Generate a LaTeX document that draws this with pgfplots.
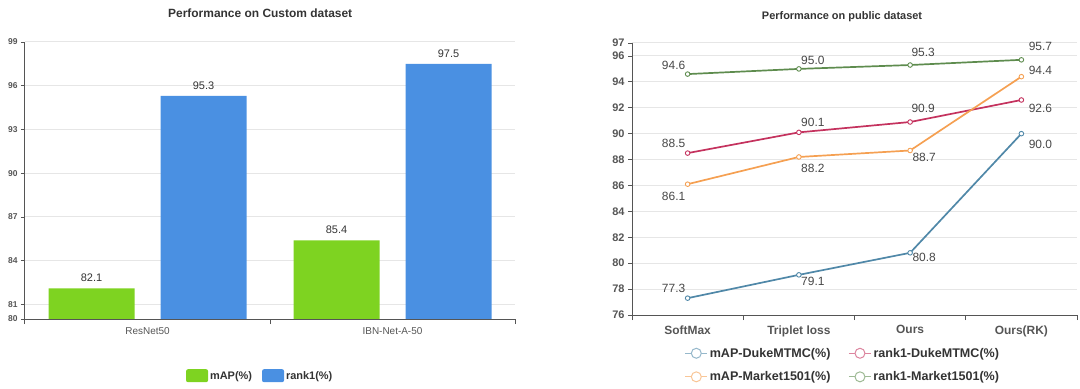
\documentclass[border=0pt]{standalone}
\usepackage{pgfplots}
\pgfplotsset{compat=1.18}
\usepackage{pgfplotstable}
\usepackage{fontspec}
\setmainfont{Liberation Sans}
\definecolor{cgreen}{HTML}{7ED321}
\definecolor{cblue}{HTML}{4A90E2}
\definecolor{cduke}{HTML}{5088A8}
\definecolor{crank}{HTML}{C4325E}
\definecolor{cmkt}{HTML}{F5A052}
\definecolor{crmkt}{HTML}{5E8C4E}
\definecolor{axisgray}{HTML}{555555}
\definecolor{txt}{HTML}{333333}
\definecolor{gridc}{HTML}{E6E6E6}
\pgfkeys{/pgf/number format/assume math mode=true}

\pgfplotstableread{
x y dx dy
0 77.3 -14 10
1 79.1 14 -7
2 80.8 14 -5
3 90.0 19 -11
}\dukemap
\pgfplotstableread{
x y dx dy
0 88.5 -14 10
1 90.1 14 10
2 90.9 13 14
3 92.6 19 -8
}\dukerank
\pgfplotstableread{
x y dx dy
0 86.1 -14 -12
1 88.2 14 -11
2 88.7 14 -7
3 94.4 19 6
}\mktmap
\pgfplotstableread{
x y dx dy
0 94.6 -14 9
1 95.0 14 9
2 95.3 13 13
3 95.7 19 13
}\mktrank

\begin{document}
\begin{tikzpicture}
\path[use as bounding box] (0bp,0bp) rectangle (1080bp,389bp);

% ---------------- left chart ----------------
\begin{axis}[
  at={(25bp,70bp)}, anchor=south west, scale only axis,
  width=490bp, height=277bp,
  xmin=-0.5, xmax=1.5, ymin=80, ymax=99,
  ytick={80,81,84,87,90,93,96,99},
  xtick={0,1}, xticklabels={ResNet50,IBN-Net-A-50},
  axis x line*=bottom, axis y line*=left,
  axis line style={axisgray, line width=1bp, -},
  tick align=outside, major tick length=4bp,
  xtick style={draw=none},
  extra x ticks={-0.5,0.5,1.5}, extra x tick labels={},
  extra x tick style={grid=none, xtick style={draw=axisgray, line width=1bp}, major tick length=5bp},
  ytick style={axisgray, line width=0.8bp},
  ymajorgrids, grid style={gridc, line width=1bp},
  yticklabel style={font=\bfseries\fontsize{8.5}{9}\selectfont, text=axisgray},
  xticklabel style={font=\fontsize{10}{11}\selectfont, text=axisgray, yshift=-1bp},
  /pgf/number format/assume math mode=true,
  title={Performance on Custom dataset},
  every axis title/.style={at={(0.48,1.105)}, anchor=center, font=\bfseries\fontsize{12}{13}\selectfont, text=txt},
  legend columns=2,
  legend style={at={(0.48,-0.206)}, anchor=center, draw=none, fill=none,
    font=\bfseries\fontsize{11}{12}\selectfont, text=txt,
    /tikz/every even column/.append style={column sep=8bp}},
  nodes near coords={\pgfmathprintnumber[fixed,fixed zerofill,precision=1]{\pgfplotspointmeta}},
  nodes near coords style={font=\fontsize{11}{12}\selectfont, text=txt, anchor=south, yshift=3bp},
]
\addplot[ybar, bar width=86bp, bar shift=-56bp, fill=cgreen, draw=none,
  every node near coord/.append style={xshift=-56bp},
  legend image code/.code={\fill[cgreen, rounded corners=2bp] (0bp,-6bp) rectangle (22bp,7bp);}]
  coordinates {(0,82.1) (1,85.4)};
\addlegendentry{mAP(\%)}
\addplot[ybar, bar width=86bp, bar shift=56bp, fill=cblue, draw=none,
  every node near coord/.append style={xshift=56bp},
  legend image code/.code={\fill[cblue, rounded corners=2bp] (0bp,-6bp) rectangle (22bp,7bp);}]
  coordinates {(0,95.3) (1,97.5)};
\addlegendentry{rank1(\%)}
\end{axis}

% ---------------- right chart ----------------
\begin{axis}[
  at={(632bp,74bp)}, anchor=south west, scale only axis,
  width=445bp, height=272bp,
  xmin=-0.5, xmax=3.5, ymin=76, ymax=97,
  ytick={76,78,80,82,84,86,88,90,92,94,96,97},
  xtick={0,1,2,3}, xticklabels={SoftMax,Triplet loss,Ours,Ours(RK)},
  axis x line*=bottom, axis y line*=left,
  axis line style={axisgray, line width=1bp, -},
  tick align=outside, major tick length=4bp,
  xtick style={draw=none},
  extra x ticks={-0.5,0.5,1.5,2.5,3.5}, extra x tick labels={},
  extra x tick style={grid=none, xtick style={draw=axisgray, line width=1bp}, major tick length=5bp},
  ytick style={axisgray, line width=0.8bp},
  ymajorgrids, grid style={gridc, line width=1bp},
  yticklabel style={font=\bfseries\fontsize{11}{12}\selectfont, text=axisgray},
  xticklabel style={font=\bfseries\fontsize{12}{13}\selectfont, text=axisgray, yshift=-3bp},
  /pgf/number format/assume math mode=true,
  title={Performance on public dataset},
  every axis title/.style={at={(0.472,1.097)}, anchor=center, font=\bfseries\fontsize{11}{12}\selectfont, text=txt},
  legend columns=2,
  legend style={at={(0.474,-0.184)}, anchor=center, draw=none, fill=none,
    font=\bfseries\fontsize{12.6}{13}\selectfont, text=txt,
    row sep=9bp,
    /tikz/every even column/.append style={column sep=16bp}},
  point meta=y,
  visualization depends on={\thisrow{dx}\as\labdx},
  visualization depends on={\thisrow{dy}\as\labdy},
  nodes near coords={\pgfmathprintnumber[fixed,fixed zerofill,precision=1]{\pgfplotspointmeta}},
  nodes near coords style={font=\fontsize{12}{13}\selectfont, text=txt!90, anchor=center, xshift={\labdx*1bp}, yshift={\labdy*1bp}},
  every axis plot/.append style={line width=1.7bp, mark=*, mark size=2.3bp, mark options={fill=white, line width=0.9bp}},
]
\addplot[color=cduke,
  legend image code/.code={\draw[cduke!60, line width=1bp] (0bp,0bp) -- (22bp,0bp); \draw[cduke!60, line width=1bp, fill=white] (11bp,0bp) circle (5bp);}]
  table[x=x,y=y] {\dukemap};
\addlegendentry{mAP-DukeMTMC(\%)}
\addplot[color=crank,
  legend image code/.code={\draw[crank!60, line width=1bp] (0bp,0bp) -- (22bp,0bp); \draw[crank!60, line width=1bp, fill=white] (11bp,0bp) circle (5bp);}]
  table[x=x,y=y] {\dukerank};
\addlegendentry{rank1-DukeMTMC(\%)}
\addplot[color=cmkt,
  legend image code/.code={\draw[cmkt!60, line width=1bp] (0bp,0bp) -- (22bp,0bp); \draw[cmkt!60, line width=1bp, fill=white] (11bp,0bp) circle (5bp);}]
  table[x=x,y=y] {\mktmap};
\addlegendentry{mAP-Market1501(\%)}
\addplot[color=crmkt,
  legend image code/.code={\draw[crmkt!60, line width=1bp] (0bp,0bp) -- (22bp,0bp); \draw[crmkt!60, line width=1bp, fill=white] (11bp,0bp) circle (5bp);}]
  table[x=x,y=y] {\mktrank};
\addlegendentry{rank1-Market1501(\%)}
\end{axis}
\end{tikzpicture}
\end{document}
